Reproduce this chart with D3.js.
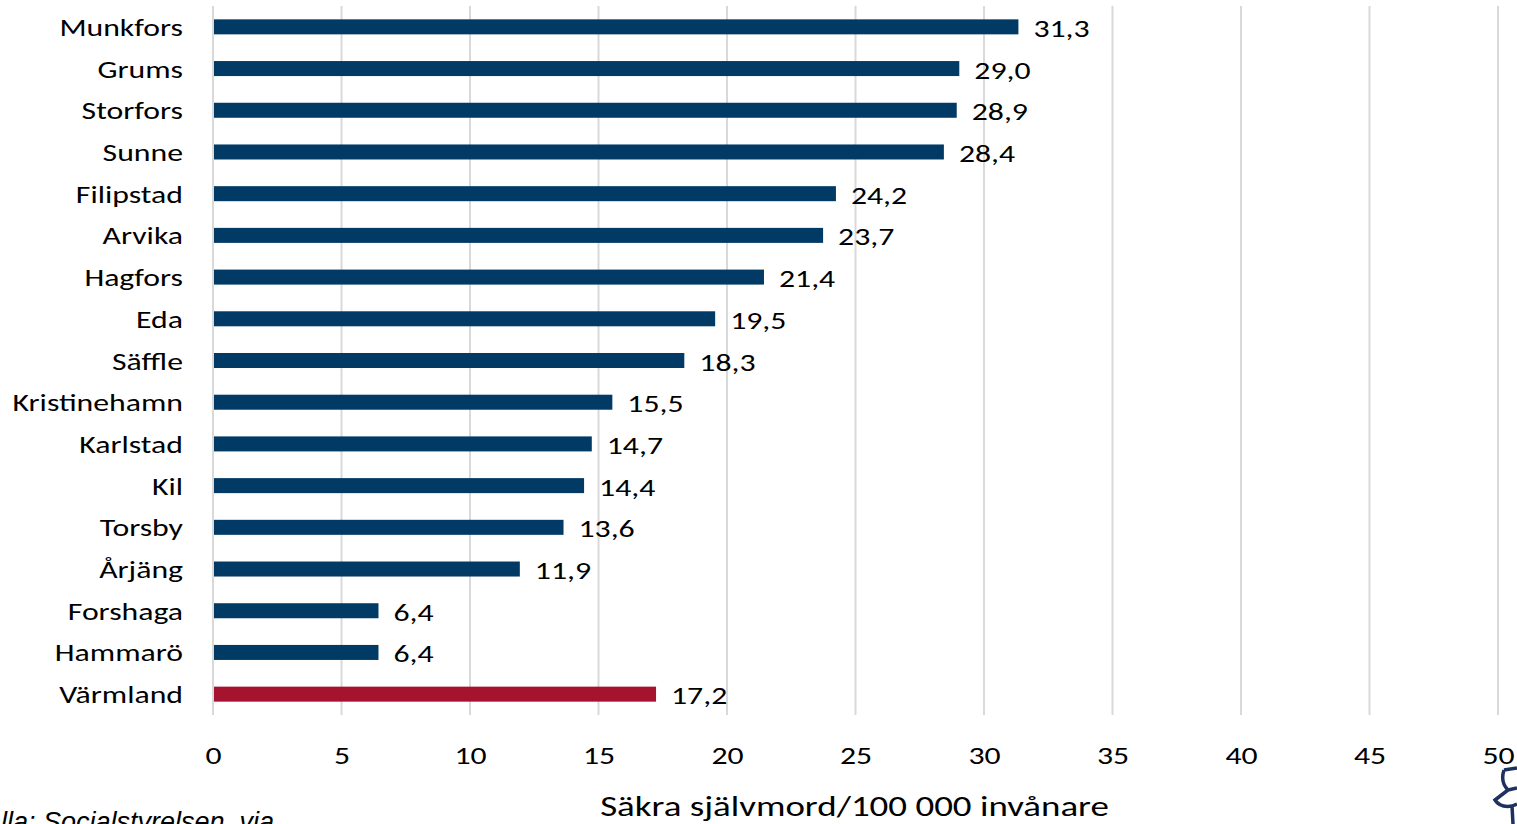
<!DOCTYPE html>
<html>
<head>
<meta charset="utf-8">
<script src="https://cdn.jsdelivr.net/npm/d3@7"></script>
<style>
  body { margin: 0; background: #fff; overflow: hidden; }
  text { font-family: Carlito, Lato, sans-serif; }
</style>
</head>
<body>
<div id="chart"></div>
<script>
// chart data
const categories = ["Munkfors", "Grums", "Storfors", "Sunne", "Filipstad", "Arvika", "Hagfors", "Eda",
  "Säffle", "Kristinehamn", "Karlstad", "Kil", "Torsby", "Årjäng", "Forshaga", "Hammarö", "Värmland"];
const values = [31.3, 29.0, 28.9, 28.4, 24.2, 23.7, 21.4, 19.5, 18.3, 15.5, 14.7, 14.4, 13.6, 11.9, 6.4, 6.4, 17.2];
const xTicks = [0, 5, 10, 15, 20, 25, 30, 35, 40, 45, 50];
const highlight = "Värmland";
const axisTitle = "Säkra självmord/100 000 invånare";
const sourceText = "Källa: Socialstyrelsen, via";

const width = 1517;
const height = 824;
const margin = {left: 213, right: 19, top: 6, bottom: 109};
// the original picture is stretched sideways, so the text is widened to match
const stretch = 1.27;

const svg = d3.select("#chart")
  .append("svg")
    .attr("width", width)
    .attr("height", height);

const x = d3.scaleLinear()
  .domain([0, 50])
  .range([margin.left, width - margin.right]);

const y = d3.scaleBand()
  .domain(categories)
  .range([margin.top, height - margin.bottom])
  .paddingInner(0.64)
  .paddingOuter(0.32);

// gridlines
svg.append("g")
  .selectAll("line")
  .data(xTicks)
  .enter().append("line")
    .attr("x1", d => x(d))
    .attr("x2", d => x(d))
    .attr("y1", margin.top)
    .attr("y2", height - margin.bottom)
    .attr("stroke", "#d9d9d9")
    .attr("stroke-width", 2);

// bars
svg.append("g")
  .selectAll("rect")
  .data(values)
  .enter().append("rect")
    .attr("x", x(0) + 1)
    .attr("y", (d, i) => y(categories[i]))
    .attr("width", d => x(d) - x(0))
    .attr("height", y.bandwidth())
    .attr("fill", (d, i) => categories[i] === highlight ? "#a6132e" : "#023a66");

// value labels
const fmt = v => d3.format(".1f")(v).replace(".", ",");
svg.append("g")
  .selectAll("text")
  .data(values)
  .enter().append("text")
    .attr("transform", (d, i) => "translate(" + (x(d) + 16) + "," +
      (y(categories[i]) + y.bandwidth() / 2 + 10) + ") scale(" + stretch + ",1)")
    .attr("font-size", 25)
    .attr("fill", "#000")
    .text(d => fmt(d));

// category axis
const yAxis = svg.append("g")
  .attr("transform", "translate(" + (margin.left - 30) + ",0)")
  .call(d3.axisLeft(y).tickSize(0).tickPadding(0));
yAxis.select(".domain").remove();
yAxis.selectAll("text")
  .attr("font-size", 25)
  .attr("fill", "#000")
  .attr("dy", "0.36em")
  .attr("transform", "scale(" + stretch + ",1)")
  .style("font-family", "Carlito, Lato, sans-serif");

// value axis
const xAxis = svg.append("g")
  .attr("transform", "translate(0," + (height - margin.bottom) + ")")
  .call(d3.axisBottom(x).tickValues(xTicks).tickSize(0).tickPadding(31));
xAxis.select(".domain").remove();
xAxis.selectAll("text")
  .attr("font-size", 25)
  .attr("fill", "#000")
  .attr("transform", "scale(" + stretch + ",1)")
  .style("font-family", "Carlito, Lato, sans-serif");

// axis title
svg.append("text")
  .attr("transform", "translate(" + ((x(0) + x(50)) / 2 - 1) + ",816) scale(1.32,1)")
  .attr("text-anchor", "middle")
  .attr("font-size", 28)
  .attr("fill", "#000")
  .text(axisTitle);

// source note (partly cut off on the left, as in the original)
svg.append("text")
  .attr("x", -32)
  .attr("y", 831)
  .attr("font-size", 27)
  .attr("font-style", "italic")
  .style("font-family", "'Liberation Sans', Arial, sans-serif")
  .attr("fill", "#000")
  .text(sourceText);

// logo fragment bottom-right
svg.append("path")
  .attr("d", "M1504,770 L1517,768 M1504,770 Q1500,782 1508,790 L1495,800 Q1500,808 1512,806 L1513,824 M1508,790 L1517,788 M1512,806 L1517,804")
  .attr("fill", "none")
  .attr("stroke", "#1f3160")
  .attr("stroke-width", 3.5);
</script>
</body>
</html>
